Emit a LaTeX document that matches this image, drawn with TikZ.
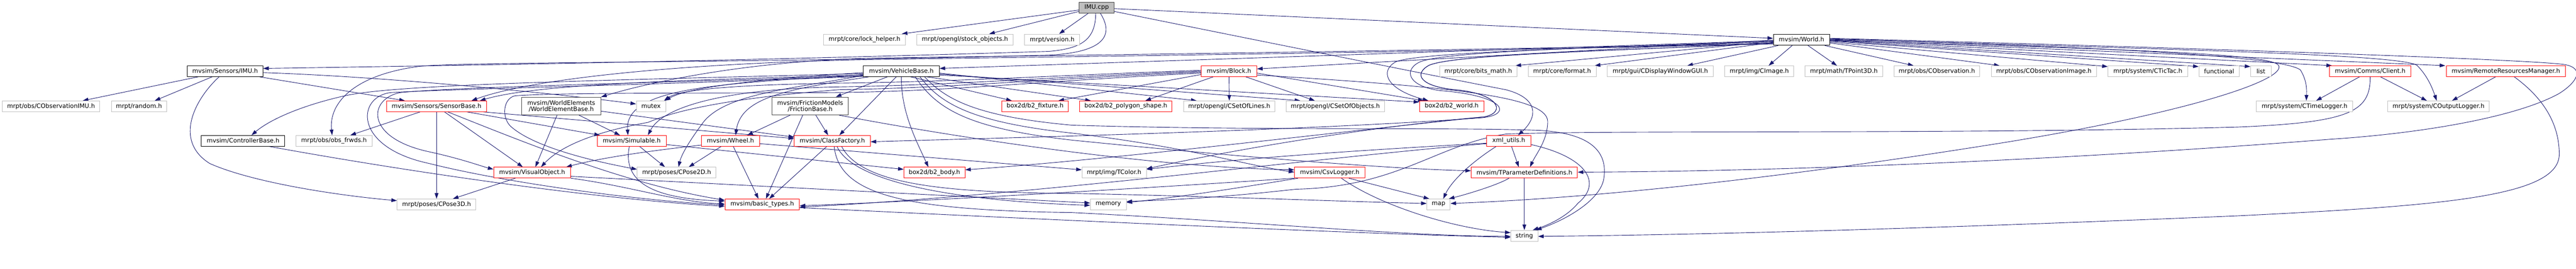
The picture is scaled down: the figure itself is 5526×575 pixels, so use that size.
\documentclass[tikz,border=0pt]{standalone}
\usepackage{fontspec}
\setmainfont{DejaVu Sans}
\usetikzlibrary{arrows.meta}
\definecolor{edgecol}{HTML}{191970}
\definecolor{leafcol}{HTML}{BFBFBF}
\definecolor{trunccol}{HTML}{FF0000}
\definecolor{darkcol}{HTML}{404040}
\pgfdeclarelayer{edgelayer}
\pgfsetlayers{edgelayer,main}
\tikzset{
  nbase/.style={rectangle, fill=white, inner sep=0pt, minimum height=23pt, line width=1pt, font=\fontsize{13pt}{13.5pt}\selectfont, align=center, text=black},
  nleaf/.style={nbase, draw=leafcol},
  ntrunc/.style={nbase, draw=trunccol},
  ndoc/.style={nbase, draw=black},
  ndark/.style={nbase, draw=darkcol, minimum height=38pt},
  nroot/.style={nbase, draw=darkcol, fill=leafcol},
  dep/.style={draw=edgecol, line width=1pt, -{Triangle[length=12pt,width=8pt]}},
}
\begin{document}
\begin{tikzpicture}[x=1pt,y=1pt]
\useasboundingbox (0,0) rectangle (5526,-575);
% row 0/1
\node[nroot, minimum width=75pt] (imucpp) at (2352.5,-16.5) {IMU.cpp};
\node[nleaf, minimum width=175pt, minimum height=24pt] (lockhelper) at (1854.5,-85) {mrpt/core/lock\_helper.h};
\node[nleaf, minimum width=206pt, minimum height=24pt] (stockobj) at (2070,-85) {mrpt/opengl/stock\_objects.h};
\node[nleaf, minimum width=118pt, minimum height=24pt] (version) at (2257,-85) {mrpt/version.h};
\node[ndoc, minimum width=121pt, minimum height=24pt] (worldh) at (3864.5,-85) {mvsim/World.h};
% row 2
\node[ndoc, minimum width=162pt] (imuh) at (483,-152.5) {mvsim/Sensors/IMU.h};
\node[ndoc, minimum width=163pt] (vehbase) at (1933.5,-152.5) {mvsim/VehicleBase.h};
\node[ntrunc, minimum width=119pt] (block) at (2636.5,-152.5) {mvsim/Block.h};
\node[nleaf, minimum width=166pt] (bitsmath) at (3171,-152.5) {mrpt/core/bits\_math.h};
\node[nleaf, minimum width=146pt] (format) at (3351,-152.5) {mrpt/core/format.h};
\node[nleaf, minimum width=227pt] (cdisplay) at (3561.5,-152.5) {mrpt/gui/CDisplayWindowGUI.h};
\node[nleaf, minimum width=148pt] (cimage) at (3774,-152.5) {mrpt/img/CImage.h};
\node[nleaf, minimum width=167pt] (tpoint) at (3955.5,-152.5) {mrpt/math/TPoint3D.h};
\node[nleaf, minimum width=184pt] (cobs) at (4155,-152.5) {mrpt/obs/CObservation.h};
\node[nleaf, minimum width=225pt] (cobsimg) at (4384.5,-152.5) {mrpt/obs/CObservationImage.h};
\node[nleaf, minimum width=171pt] (ctictac) at (4607.5,-152.5) {mrpt/system/CTicTac.h};
\node[nleaf, minimum width=87pt] (functional) at (4760.5,-152.5) {functional};
\node[nleaf, minimum width=44pt] (list) at (4850,-152.5) {list};
\node[ntrunc, minimum width=175pt] (client) at (5084.5,-152.5) {mvsim/Comms/Client.h};
\node[ntrunc, minimum width=255pt] (remote) at (5375.5,-152.5) {mvsim/RemoteResourcesManager.h};
% row 3
\node[nleaf, minimum width=209pt] (cobsimu) at (109.5,-227.5) {mrpt/obs/CObservationIMU.h};
\node[nleaf, minimum width=118pt] (random) at (298,-227.5) {mrpt/random.h};
\node[ntrunc, minimum width=215pt] (sensorbase) at (936.5,-227.5) {mvsim/Sensors/SensorBase.h};
\node[ndark, minimum width=170pt] (web) at (1204,-227) {mvsim/WorldElements\\/WorldElementBase.h};
\node[nleaf, minimum width=63pt] (mutex) at (1396.5,-227.5) {mutex};
\node[ndark, minimum width=164pt] (friction) at (1738,-227) {mvsim/FrictionModels\\/FrictionBase.h};
\node[ntrunc, minimum width=143pt] (fixture) at (2220.5,-227.5) {box2d/b2\_fixture.h};
\node[ntrunc, minimum width=198pt] (polygon) at (2415,-227.5) {box2d/b2\_polygon\_shape.h};
\node[nleaf, minimum width=196pt] (setoflines) at (2637,-227.5) {mrpt/opengl/CSetOfLines.h};
\node[nleaf, minimum width=211pt] (setofobj) at (2864.5,-227.5) {mrpt/opengl/CSetOfObjects.h};
\node[ntrunc, minimum width=138pt] (b2world) at (3114,-227.5) {box2d/b2\_world.h};
\node[nleaf, minimum width=207pt] (ctimelog) at (4943.5,-227.5) {mrpt/system/CTimeLogger.h};
\node[nleaf, minimum width=218pt] (coutlog) at (5231,-227.5) {mrpt/system/COutputLogger.h};
% row 4
\node[ndoc, minimum width=179pt] (controller) at (521.5,-301.5) {mvsim/ControllerBase.h};
\node[nleaf, minimum width=163pt] (obsfrwds) at (716.5,-301.5) {mrpt/obs/obs\_frwds.h};
\node[ntrunc, minimum width=148pt] (simulable) at (1355,-301.5) {mvsim/Simulable.h};
\node[ntrunc, minimum width=124pt] (wheel) at (1567,-301.5) {mvsim/Wheel.h};
\node[ntrunc, minimum width=163pt] (classfactory) at (1785.5,-301.5) {mvsim/ClassFactory.h};
\node[ntrunc, minimum width=95pt] (xmlutils) at (3236.5,-301.5) {xml\_utils.h};
% row 5
\node[ntrunc, minimum width=165pt] (visual) at (1141.5,-369.5) {mvsim/VisualObject.h};
\node[nleaf, minimum width=169pt] (cpose2d) at (1451.5,-369.5) {mrpt/poses/CPose2D.h};
\node[ntrunc, minimum width=131pt] (b2body) at (2004.5,-369.5) {box2d/b2\_body.h};
\node[nleaf, minimum width=138pt] (tcolor) at (2390,-369.5) {mrpt/img/TColor.h};
\node[ntrunc, minimum width=151pt] (csvlogger) at (2852.5,-369.5) {mvsim/CsvLogger.h};
\node[ntrunc, minimum width=228pt] (tparam) at (3270,-369.5) {mvsim/TParameterDefinitions.h};
% row 6/7
\node[nleaf, minimum width=169pt] (cpose3d) at (936.5,-437.5) {mrpt/poses/CPose3D.h};
\node[ntrunc, minimum width=160pt] (basictypes) at (1635,-437.5) {mvsim/basic\_types.h};
\node[nleaf, minimum width=77pt] (memory) at (2377.5,-437.5) {memory};
\node[nleaf, minimum width=50pt] (map) at (3086,-437.5) {map};
\node[nleaf, minimum width=58pt, minimum height=24pt] (string) at (3270,-505) {string};

\begin{pgfonlayer}{edgelayer}
\fill[white] (0,0) rectangle (5526,-575);
% IMU.cpp
\draw[dep] ([yshift=-5pt]imucpp.west) -- ([xshift=80pt]lockhelper.north);
\draw[dep] ([yshift=-8pt]imucpp.west) -- ([xshift=52pt]stockobj.north);
\draw[dep] ([xshift=-18pt]imucpp.south) -- ([xshift=15pt]version.north);
\draw[dep] ([xshift=-2pt]imucpp.south) .. controls (2350,-85) and (2320,-104) .. (2250,-110) .. controls (1600,-130) and (1000,-140) .. ([yshift=6pt]imuh.east);
\draw[dep] ([xshift=8pt]imucpp.south) .. controls (2390,-75) and (2370,-112) .. (2250,-118) .. controls (1600,-135) and (1000,-132) .. (900,-142) .. controls (760,-160) and (705,-220) .. ([xshift=-4pt]obsfrwds.north);
\draw[dep] ([yshift=-2pt]imucpp.east) -- ([yshift=3pt]worldh.west);
\draw[dep] ([yshift=-8pt]imucpp.east) .. controls (2700,-87) and (3100,-167) .. (3230,-192) .. controls (3300,-210) and (3300,-250) .. ([xshift=20pt]xmlutils.north);
% IMU.h
\draw[dep] ([xshift=-58pt]imuh.south) -- ([xshift=68pt]cobsimu.north);
\draw[dep] ([xshift=-28pt]imuh.south) -- ([xshift=34pt]random.north);
\draw[dep] ([xshift=74pt]imuh.south) -- ([xshift=-68pt]sensorbase.north);
\draw[dep] ([yshift=-3pt]imuh.east) .. controls (800,-163) and (1150,-195) .. ([yshift=5pt]mutex.west);
\draw[dep] ([xshift=-13pt]imuh.south) .. controls (420,-210) and (370,-300) .. (450,-350) .. controls (540,-390) and (720,-418) .. ([yshift=8pt]cpose3d.west);
% SensorBase
\draw[dep] ([xshift=-35pt]sensorbase.south) -- ([xshift=35pt]obsfrwds.north);
\draw[dep] (sensorbase.south) -- (cpose3d.north);
\draw[dep] ([xshift=17pt]sensorbase.south) -- ([xshift=-20pt]visual.north);
\draw[dep] ([xshift=65pt]sensorbase.south) -- ([xshift=-68pt]simulable.north);
\draw[dep] ([xshift=100pt]sensorbase.south) -- ([yshift=5pt]classfactory.west);
\draw[dep] ([xshift=24pt]sensorbase.south) .. controls (1150,-315) and (1350,-395) .. ([yshift=9pt]basictypes.west);
% WorldElementBase
\draw[dep] ([xshift=-9pt]web.south) -- ([xshift=7pt]visual.north);
\draw[dep] ([xshift=38pt]web.south) -- ([xshift=-25pt]simulable.north);
\draw[dep] ([yshift=-11pt]web.east) -- ([yshift=8pt]classfactory.west);
% Simulable
\draw[dep] ([xshift=17pt]simulable.south) -- ([xshift=-25pt]cpose2d.north);
\draw[dep] ([xshift=-5pt]simulable.south) .. controls (1335,-390) and (1400,-425) .. ([yshift=7pt]basictypes.west);
\draw[dep] ([yshift=-8pt]simulable.east) -- ([yshift=7pt]b2body.west);
% VisualObject
\draw[dep] ([xshift=-36pt]visual.south) -- ([xshift=35pt]cpose3d.north);
\draw[dep] (visual.south east) .. controls (1350,-398) and (1450,-432) .. ([yshift=1pt]basictypes.west);
\draw[dep] ([yshift=-8pt]visual.east) -- ([yshift=3pt]memory.west);
% Wheel
\draw[dep] ([xshift=-20pt]wheel.south) -- ([xshift=26pt]cpose2d.north);
\draw[dep] ([xshift=6pt]wheel.south) -- ([xshift=-8pt]basictypes.north);
\draw[dep] ([yshift=-9pt]wheel.west) .. controls (1420,-320) and (1300,-335) .. ([xshift=73pt]visual.north);
\draw[dep] ([yshift=-6pt]wheel.east) -- ([yshift=6pt]tcolor.west);
% FrictionBase
\draw[dep] ([xshift=-43pt]friction.south) -- ([xshift=36pt]wheel.north);
\draw[dep] ([xshift=-16pt]friction.south) -- ([xshift=8pt]basictypes.north);
\draw[dep] ([xshift=12pt]friction.south) -- ([xshift=-9pt]classfactory.north);
\draw[dep] ([xshift=62pt]friction.south) .. controls (2000,-285) and (2450,-358) .. ([yshift=6pt]csvlogger.west);
% ControllerBase
\draw[dep] ([xshift=56pt]controller.south) .. controls (900,-372) and (1300,-428) .. ([yshift=-4pt]basictypes.west);
% VehicleBase
\draw[dep] ([yshift=-5pt]vehbase.west) .. controls (1300,-172) and (850,-180) .. (740,-205) .. controls (650,-225) and (580,-255) .. ([xshift=18pt]controller.north);
\draw[dep] ([yshift=-8pt]vehbase.west) .. controls (1450,-172) and (1150,-180) .. ([xshift=93pt]sensorbase.north);
\draw[dep] ([yshift=-10pt]vehbase.west) .. controls (1400,-178) and (1000,-185) .. (860,-198) .. controls (790,-210) and (780,-295) .. (921,-325) .. controls (990,-340) and (1030,-355) .. ([yshift=7pt]visual.west);
\draw[dep] ([yshift=-11pt]vehbase.west) .. controls (1400,-182) and (980,-190) .. (840,-198) .. controls (765,-205) and (755,-315) .. (921,-350) .. controls (1100,-395) and (1400,-432) .. ([yshift=-1pt]basictypes.west);
\draw[dep] ([yshift=-7pt]vehbase.west) .. controls (1550,-180) and (1340,-185) .. ([xshift=-8pt]simulable.north);
\draw[dep] ([xshift=-70pt]vehbase.south) .. controls (1700,-190) and (1590,-205) .. ([xshift=11pt]wheel.north);
\draw[dep] ([xshift=-30pt]vehbase.south) -- ([xshift=55pt]friction.north);
\draw[dep] ([xshift=-11pt]vehbase.south) -- ([xshift=15pt]classfactory.north);
\draw[dep] ([yshift=-9pt]vehbase.west) .. controls (1700,-190) and (1560,-200) .. (1510,-260) .. controls (1480,-300) and (1462,-330) .. ([xshift=4pt]cpose2d.north);
\draw[dep] ([yshift=-3pt]vehbase.west) .. controls (1650,-168) and (1480,-185) .. ([xshift=30pt]mutex.north);
\draw[dep] ([xshift=20pt]vehbase.south) -- ([xshift=-50pt]fixture.north);
\draw[dep] (vehbase.south) .. controls (1933,-240) and (1965,-300) .. ([xshift=-13pt]b2body.north);
\draw[dep] ([xshift=55pt]vehbase.south) -- ([xshift=-75pt]polygon.north);
\draw[dep] ([yshift=-4pt]vehbase.east) -- ([xshift=-70pt]setoflines.north);
\draw[dep] ([yshift=-6pt]vehbase.east) -- ([xshift=-75pt]setofobj.north);
\draw[dep] ([yshift=-8pt]vehbase.east) -- ([yshift=9pt]b2world.west);
\draw[dep] ([xshift=40pt]vehbase.south) .. controls (2020,-225) and (2090,-262) .. (2300,-285) .. controls (2550,-315) and (2680,-355) .. ([yshift=1pt]csvlogger.west);
\draw[dep] ([xshift=30pt]vehbase.south) .. controls (2010,-235) and (2080,-275) .. (2300,-300) .. controls (2700,-340) and (3000,-362) .. ([yshift=4pt]tparam.west);
\draw[dep] ([xshift=50pt]vehbase.south) .. controls (2030,-215) and (2100,-250) .. (2300,-268) .. controls (2700,-280) and (3100,-272) .. (3300,-279) .. controls (3420,-285) and (3450,-330) .. (3440,-385) .. controls (3430,-430) and (3360,-470) .. ([xshift=25pt]string.north);
% Block
\draw[dep] (block.south) -- (setoflines.north);
\draw[dep] ([xshift=-34pt]block.south) -- ([xshift=42pt]polygon.north);
\draw[dep] ([yshift=-7pt]block.west) -- ([xshift=50pt]fixture.north);
\draw[dep] ([yshift=-4pt]block.east) -- ([xshift=-60pt]b2world.north);
\draw[dep] ([xshift=36pt]block.south) -- ([xshift=-44pt]setofobj.north);
\draw[dep] ([yshift=-8pt]block.east) .. controls (3100,-185) and (3320,-205) .. (3320,-260) .. controls (3320,-300) and (3295,-330) .. ([xshift=12pt]tparam.north);
\draw[dep] ([yshift=2pt]block.west) .. controls (2250,-162) and (2050,-175) .. (1800,-178) .. controls (1600,-181) and (1460,-190) .. ([xshift=28pt]mutex.north);
\draw[dep] (block.west) .. controls (2250,-165) and (2050,-182) .. (1800,-186) .. controls (1550,-190) and (1420,-230) .. ([xshift=35pt]simulable.north);
\draw[dep] ([yshift=-2pt]block.west) .. controls (2250,-168) and (2050,-188) .. (1800,-192) .. controls (1500,-215) and (1420,-250) .. (1390,-262) .. controls (1300,-278) and (1210,-305) .. ([xshift=19pt]visual.north);
\draw[dep] ([yshift=-4pt]block.west) .. controls (2250,-172) and (2050,-195) .. (1800,-198) .. controls (1500,-200) and (1200,-198) .. (1105,-205) .. controls (1080,-210) and (1075,-250) .. (1095,-270) .. controls (1150,-320) and (1300,-350) .. ([yshift=7pt]cpose2d.west);
% World.h
\draw[dep] ([yshift=-2pt]worldh.west) -- ([yshift=6pt]vehbase.east);
\draw[dep] ([yshift=-1pt]worldh.west) -- ([yshift=5pt]block.east);
\draw[dep] ([yshift=-4pt]worldh.west) -- ([xshift=80pt]bitsmath.north);
\draw[dep] ([yshift=-6pt]worldh.west) -- ([xshift=70pt]format.north);
\draw[dep] ([xshift=-50pt]worldh.south) -- ([xshift=58pt]cdisplay.north);
\draw[dep] ([xshift=-20pt]worldh.south) -- ([xshift=20pt]cimage.north);
\draw[dep] ([xshift=14pt]worldh.south) -- ([xshift=-15pt]tpoint.north);
\draw[dep] ([xshift=50pt]worldh.south) -- ([xshift=-50pt]cobs.north);
\draw[dep] ([yshift=-7pt]worldh.east) -- ([xshift=-95pt]cobsimg.north);
\draw[dep] ([yshift=-5pt]worldh.east) -- ([yshift=10pt]ctictac.west);
\draw[dep] ([yshift=-3pt]worldh.east) -- ([yshift=10pt]functional.west);
\draw[dep] ([yshift=-2pt]worldh.east) -- ([yshift=10pt]list.west);
\draw[dep] ([yshift=-1pt]worldh.east) -- ([xshift=-82pt]client.north);
\draw[dep] (worldh.east) -- ([xshift=-130pt]remote.north);
\draw[dep] ([yshift=1pt]worldh.east) .. controls (4500,-100) and (4900,-120) .. (4935,-150) .. controls (4950,-175) and (4948,-195) .. ([xshift=4pt]ctimelog.north);
\draw[dep] ([yshift=2pt]worldh.east) .. controls (4600,-105) and (5150,-115) .. (5185,-140) .. controls (5210,-165) and (5220,-195) .. ([xshift=-4pt]coutlog.north);
\draw[dep] ([yshift=3pt]worldh.east) .. controls (4800,-105) and (5430,-128) .. (5500,-138) .. controls (5545,-145) and (5530,-175) .. (5490,-200) .. controls (5400,-250) and (5200,-285) .. (5000,-298) .. controls (4400,-345) and (3800,-367) .. ([yshift=1pt]tparam.east);
\draw[dep] ([yshift=-1pt]worldh.east) .. controls (4500,-105) and (4870,-112) .. (4888,-140) .. controls (4905,-170) and (4700,-240) .. (4300,-305) .. controls (3800,-385) and (3400,-425) .. ([yshift=2pt]map.east);
\draw[dep] ([yshift=-8pt]worldh.west) .. controls (3000,-110) and (2300,-118) .. (1900,-124) .. controls (1600,-128) and (1380,-180) .. (web.north east);
\draw[dep] ([yshift=-9pt]worldh.west) .. controls (3000,-113) and (2300,-121) .. (1900,-127) .. controls (1500,-133) and (1150,-165) .. ([xshift=75pt]sensorbase.north);
\draw[dep] ([yshift=-5pt]worldh.west) .. controls (3500,-100) and (3050,-110) .. (2995,-132) .. controls (2960,-150) and (2970,-190) .. ([xshift=-50pt]b2world.north);
\draw[dep] ([yshift=-3pt]worldh.west) .. controls (3500,-100) and (3100,-108) .. (3045,-133) .. controls (3010,-150) and (3020,-185) .. (3090,-194) .. controls (3230,-205) and (3245,-245) .. (3180,-252) .. controls (2800,-280) and (2150,-295) .. ([yshift=-2pt]classfactory.east);
\draw[dep] ([yshift=-7pt]worldh.west) .. controls (3500,-108) and (3120,-115) .. (3065,-140) .. controls (3030,-160) and (3050,-185) .. (3120,-192) .. controls (3215,-200) and (3232,-240) .. (3185,-250) .. controls (2900,-275) and (2600,-330) .. ([yshift=8pt]tcolor.east);
\draw[dep] ([yshift=-7pt]worldh.west) .. controls (3500,-108) and (3120,-115) .. (3065,-140) .. controls (3030,-160) and (3050,-185) .. (3120,-192) .. controls (3215,-200) and (3232,-240) .. (3185,-250) .. controls (2800,-290) and (2400,-340) .. ([yshift=6pt]b2body.east);
% xml_utils
\draw[dep] ([xshift=6pt]xmlutils.south) -- ([xshift=-12pt]tparam.north);
\draw[dep] ([yshift=-8pt]xmlutils.east) .. controls (3400,-335) and (3440,-390) .. (3385,-435) .. controls (3360,-465) and (3320,-482) .. ([xshift=18pt]string.north);
\draw[dep] ([xshift=-27pt]xmlutils.south) .. controls (3160,-345) and (3115,-385) .. ([xshift=10pt]map.north);
\draw[dep] ([yshift=-5pt]xmlutils.west) .. controls (2950,-320) and (2700,-335) .. ([yshift=7pt]tcolor.east);
\draw[dep] ([yshift=-6pt]xmlutils.west) .. controls (2800,-340) and (2250,-415) .. ([yshift=-6pt]basictypes.east);
% TParameterDefinitions
\draw[dep] (tparam.south) -- (string.north);
\draw[dep] ([xshift=-33pt]tparam.south) .. controls (3215,-395) and (3150,-415) .. ([xshift=22pt]map.north);
% CsvLogger
\draw[dep] ([xshift=41pt]csvlogger.south) -- ([xshift=-20pt]map.north);
\draw[dep] ([xshift=25pt]csvlogger.south) .. controls (2960,-440) and (3120,-490) .. ([yshift=7pt]string.west);
\draw[dep] ([xshift=8pt]csvlogger.south west) .. controls (2700,-395) and (2550,-420) .. ([yshift=4pt]memory.east);
\draw[dep] (csvlogger.south west) .. controls (2500,-400) and (2000,-430) .. ([yshift=-3pt]basictypes.east);
% ClassFactory
\draw[dep] ([xshift=-12pt]classfactory.south) -- ([xshift=15pt]basictypes.north);
\draw[dep] ([xshift=10pt]classfactory.south) .. controls (1830,-390) and (2050,-430) .. ([yshift=-2pt]memory.west);
\draw[dep] ([xshift=20pt]classfactory.south) .. controls (1850,-400) and (2050,-412) .. (2300,-414) .. controls (2600,-420) and (2900,-432) .. ([yshift=2pt]map.west);
\draw[dep] ([xshift=4pt]classfactory.south) .. controls (1800,-420) and (1950,-450) .. (2300,-455) .. controls (2700,-475) and (3000,-505) .. ([yshift=-1pt]string.west);
% basic_types
\draw[dep] ([yshift=-7pt]basictypes.east) .. controls (2200,-468) and (2900,-500) .. ([yshift=-3pt]string.west);
% Client and RemoteResourcesManager
\draw[dep] ([xshift=-23pt]client.south) -- ([xshift=25pt]ctimelog.north);
\draw[dep] ([xshift=22pt]client.south) -- ([xshift=-25pt]coutlog.north);
\draw[dep] (client.south) .. controls (5085,-240) and (5040,-262) .. (4800,-272) .. controls (4200,-288) and (3450,-278) .. (3230,-287) .. controls (3080,-310) and (3000,-400) .. (2780,-405) .. controls (2600,-425) and (2500,-428) .. ([yshift=6pt]memory.east);
\draw[dep] ([xshift=-22pt]remote.south) -- ([xshift=29pt]coutlog.north);
\draw[dep] ([xshift=18pt]remote.south) .. controls (5470,-220) and (5490,-280) .. (5490,-330) .. controls (5490,-420) and (5250,-440) .. (4800,-462) .. controls (4200,-487) and (3700,-502) .. ([yshift=-1pt]string.east);
\end{pgfonlayer}
\end{tikzpicture}
\end{document}
